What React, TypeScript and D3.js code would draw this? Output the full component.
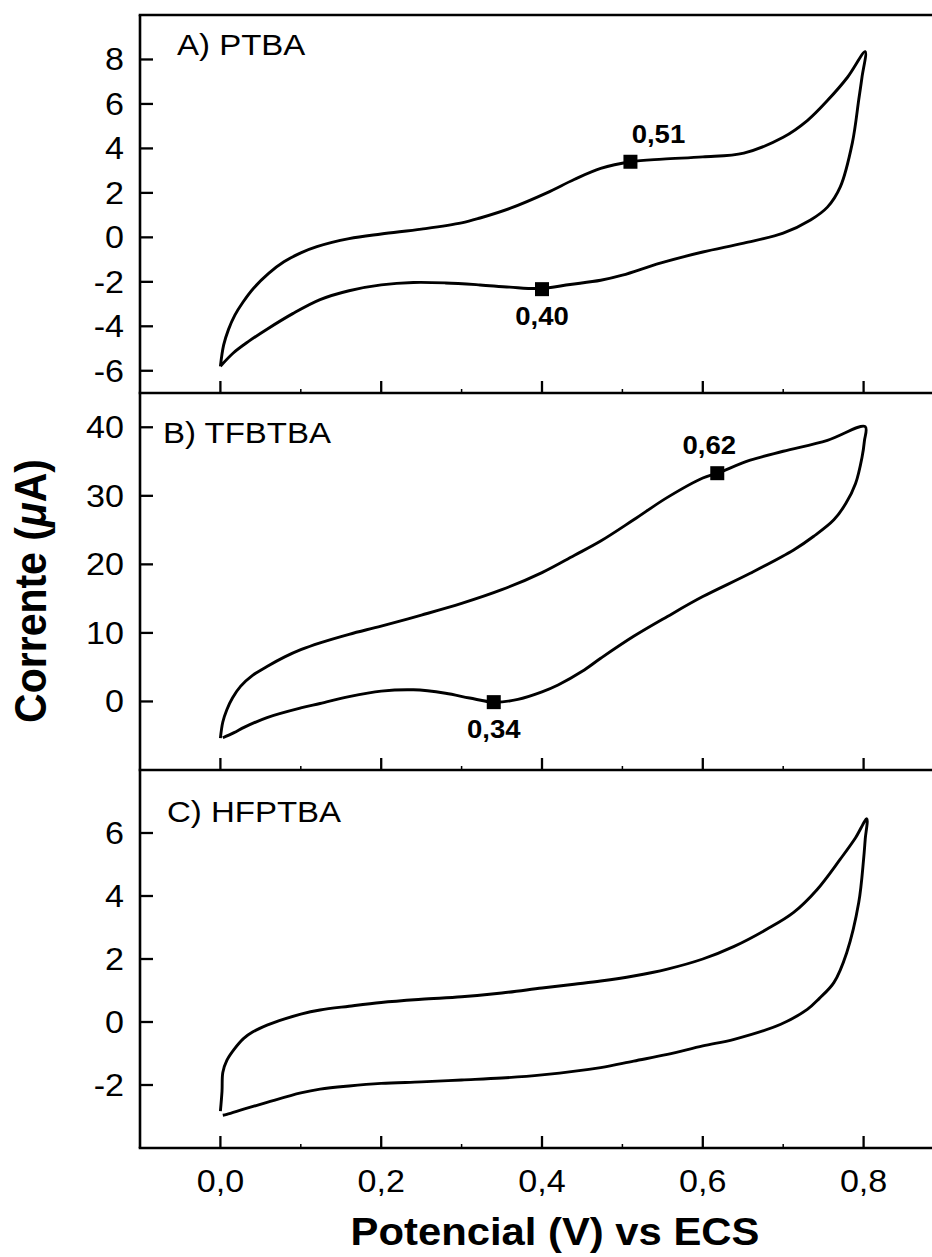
import React from "react";
import * as d3 from "d3";

// ---------- DATA ----------
const xTicks = [0, 0.2, 0.4, 0.6, 0.8];
const xMinorTicks = [0.1, 0.3, 0.5, 0.7];

const yTicksA = [-6, -4, -2, 0, 2, 4, 6, 8];
const yTicksB = [0, 10, 20, 30, 40];
const yTicksC = [-2, 0, 2, 4, 6];

const panelLabels = ["A) PTBA", "B) TFBTBA", "C) HFPTBA"];

// [potential (V), current (uA)]
const ptbaForward: [number, number][] = [
  [0.0, -5.8], [0.004, -4.85], [0.01, -4.15], [0.018, -3.5], [0.028, -2.92], [0.041, -2.3],
  [0.06, -1.62], [0.079, -1.1], [0.1, -0.7], [0.12, -0.42], [0.16, -0.06], [0.2, 0.15],
  [0.25, 0.37], [0.3, 0.65], [0.323, 0.87], [0.36, 1.3], [0.406, 2.0], [0.44, 2.6],
  [0.473, 3.1], [0.51, 3.4], [0.55, 3.52], [0.6, 3.62], [0.651, 3.79], [0.7, 4.5],
  [0.73, 5.25], [0.755, 6.15], [0.78, 7.2], [0.802, 8.35],
];
const ptbaReverse: [number, number][] = [
  [0.802, 8.35], [0.798, 7.2], [0.794, 6.2], [0.786, 4.25], [0.771, 2.27], [0.755, 1.36],
  [0.734, 0.78], [0.7, 0.19], [0.651, -0.26], [0.6, -0.66], [0.547, -1.16], [0.5, -1.7],
  [0.473, -1.93], [0.435, -2.12], [0.398, -2.3], [0.36, -2.24], [0.323, -2.14], [0.28, -2.05],
  [0.24, -2.03], [0.2, -2.14], [0.16, -2.4], [0.124, -2.8], [0.09, -3.43], [0.058, -4.13],
  [0.035, -4.68], [0.016, -5.2], [0.0, -5.8],
];

const tfbtbaForward: [number, number][] = [
  [0.0, -5.35], [0.003, -3.0], [0.008, -1.2], [0.015, 0.5], [0.025, 2.2], [0.04, 3.8],
  [0.058, 5.1], [0.08, 6.5], [0.1, 7.55], [0.124, 8.55], [0.16, 9.8], [0.2, 11.0],
  [0.25, 12.6], [0.3, 14.3], [0.35, 16.3], [0.4, 18.8], [0.44, 21.3], [0.473, 23.4],
  [0.514, 26.5], [0.555, 29.7], [0.6, 32.6], [0.618, 33.3], [0.659, 35.2], [0.7, 36.5],
  [0.755, 38.1], [0.802, 40.1],
];
const tfbtbaReverse: [number, number][] = [
  [0.802, 40.1], [0.801, 38.0], [0.798, 35.6], [0.79, 31.8], [0.778, 28.9], [0.763, 26.5],
  [0.738, 24.1], [0.713, 22.1], [0.659, 18.7], [0.6, 15.3], [0.556, 12.4], [0.514, 9.5],
  [0.473, 6.3], [0.45, 4.4], [0.42, 2.4], [0.4, 1.4], [0.37, 0.3], [0.34, -0.1],
  [0.31, 0.5], [0.28, 1.2], [0.24, 1.7], [0.2, 1.5], [0.16, 0.7], [0.124, -0.3],
  [0.1, -0.95], [0.058, -2.35], [0.03, -3.75], [0.017, -4.55], [0.003, -5.3],
];

const hfptbaForward: [number, number][] = [
  [0.0, -2.83], [0.002, -2.2], [0.003, -1.6], [0.008, -1.22], [0.017, -0.87], [0.029, -0.52],
  [0.04, -0.32], [0.058, -0.1], [0.08, 0.1], [0.1, 0.25], [0.124, 0.38], [0.16, 0.5],
  [0.2, 0.62], [0.25, 0.72], [0.3, 0.8], [0.35, 0.92], [0.4, 1.08], [0.44, 1.2],
  [0.473, 1.3], [0.514, 1.46], [0.556, 1.68], [0.6, 2.0], [0.639, 2.4], [0.68, 2.95],
  [0.713, 3.48], [0.742, 4.2], [0.771, 5.17], [0.79, 5.85], [0.804, 6.45],
];
const hfptbaReverse: [number, number][] = [
  [0.804, 6.45], [0.802, 5.8], [0.8, 5.17], [0.794, 3.8], [0.779, 2.2], [0.763, 1.25],
  [0.745, 0.75], [0.73, 0.4], [0.697, -0.07], [0.639, -0.55], [0.6, -0.76], [0.556, -1.03],
  [0.514, -1.24], [0.473, -1.45], [0.4, -1.68], [0.35, -1.78], [0.3, -1.84], [0.25, -1.9],
  [0.2, -1.95], [0.16, -2.03], [0.124, -2.13], [0.1, -2.25], [0.058, -2.55], [0.03, -2.76],
  [0.008, -2.93], [0.003, -2.96],
];

// peak markers: [potential, current, label]
const peaksA: [number, number, string][] = [[0.51, 3.4, "0,51"], [0.4, -2.33, "0,40"]];
const peaksB: [number, number, string][] = [[0.618, 33.3, "0,62"], [0.34, -0.1, "0,34"]];
const peaksC: [number, number, string][] = [];

// ---------- LAYOUT ----------
const W = 932;
const H = 1257;
const LEFT = 140;
const FONT = "'Liberation Sans', Arial, Helvetica, sans-serif";
const SX = 1.1;

const x = d3.scaleLinear().domain([-0.1, 0.9]).range([LEFT, LEFT + 804]);

const panels = [
  { top: 15, bottom: 393, domain: [-7, 10], ticks: yTicksA, fwd: ptbaForward, rev: ptbaReverse, peaks: peaksA, label: panelLabels[0], lx: 177, ly: 55, peakBelow: [false, true] },
  { top: 393, bottom: 770, domain: [-10, 45], ticks: yTicksB, fwd: tfbtbaForward, rev: tfbtbaReverse, peaks: peaksB, label: panelLabels[1], lx: 163, ly: 443, peakBelow: [false, true] },
  { top: 770, bottom: 1148, domain: [-4, 8], ticks: yTicksC, fwd: hfptbaForward, rev: hfptbaReverse, peaks: peaksC, label: panelLabels[2], lx: 167, ly: 822, peakBelow: [] as boolean[] },
];

const fmtX = (v: number) => d3.format(".1f")(v).replace(".", ",");

function T({ x0, y0, children, size, weight, anchor }: any) {
  return (
    <text
      transform={`translate(${x0},${y0}) scale(${SX},1)`}
      fontFamily={FONT}
      fontSize={size}
      fontWeight={weight || "normal"}
      textAnchor={anchor || "start"}
      fill="#000"
    >
      {children}
    </text>
  );
}

export default function App() {
  return (
    <svg
      width={W}
      height={H}
      style={{ position: "absolute", left: 0, top: 0, background: "#fff" }}
    >
      <rect x={0} y={0} width={W} height={H} fill="#fff" />
      {panels.map((p, i) => {
        const y = d3.scaleLinear().domain(p.domain).range([p.bottom, p.top]);
        const line = d3
          .line<[number, number]>()
          .x((d) => x(d[0]))
          .y((d) => y(d[1]))
          .curve(d3.curveCatmullRom.alpha(0.5));
        const loop = [...p.fwd, ...p.rev.slice(1)];
        return (
          <g key={i}>
            <path d={line(loop) || ""} fill="none" stroke="#000" strokeWidth={2.9} strokeLinejoin="round" />
            {p.ticks.map((t) => (
              <g key={t}>
                <line x1={LEFT} x2={LEFT + 13} y1={y(t)} y2={y(t)} stroke="#000" strokeWidth={2.3} />
                <T x0={124} y0={y(t) + 11} size={31} anchor="end">{String(t)}</T>
              </g>
            ))}
            {xTicks.map((t) => (
              <line key={t} x1={x(t)} x2={x(t)} y1={p.bottom} y2={p.bottom - 12} stroke="#000" strokeWidth={2.3} />
            ))}
            {xMinorTicks.map((t) => (
              <line key={"m" + t} x1={x(t)} x2={x(t)} y1={p.bottom} y2={p.bottom - 4} stroke="#000" strokeWidth={1.5} />
            ))}
            <T x0={p.lx} y0={p.ly} size={30}>{p.label}</T>
            {p.peaks.map((pk, j) => (
              <g key={j}>
                <rect x={x(pk[0]) - 7} y={y(pk[1]) - 7} width={14} height={14} fill="#000" />
                <T
                  x0={j === 0 ? x(pk[0]) + (i === 0 ? 28 : -8) : x(pk[0])}
                  y0={p.peakBelow[j] ? y(pk[1]) + 36 : y(pk[1]) - 19}
                  size={25}
                  weight="bold"
                  anchor="middle"
                >
                  {pk[2]}
                </T>
              </g>
            ))}
          </g>
        );
      })}
      <line x1={LEFT} x2={LEFT} y1={15} y2={1148} stroke="#000" strokeWidth={2.6} />
      {[15, 393, 770, 1148].map((yy) => (
        <line key={yy} x1={LEFT - 1.3} x2={W} y1={yy} y2={yy} stroke="#000" strokeWidth={2.6} />
      ))}
      {xTicks.map((t) => (
        <T key={t} x0={x(t)} y0={1192} size={31} anchor="middle">{fmtX(t)}</T>
      ))}
      <T x0={555} y0={1245} size={38} weight="bold" anchor="middle">Potencial (V) vs ECS</T>
      <text
        transform={`translate(46,591) scale(${SX},1) rotate(-90)`}
        fontFamily={FONT}
        fontSize={41}
        fontWeight="bold"
        textAnchor="middle"
        fill="#000"
      >
        Corrente (<tspan fontStyle="italic">μ</tspan>A)
      </text>
    </svg>
  );
}
